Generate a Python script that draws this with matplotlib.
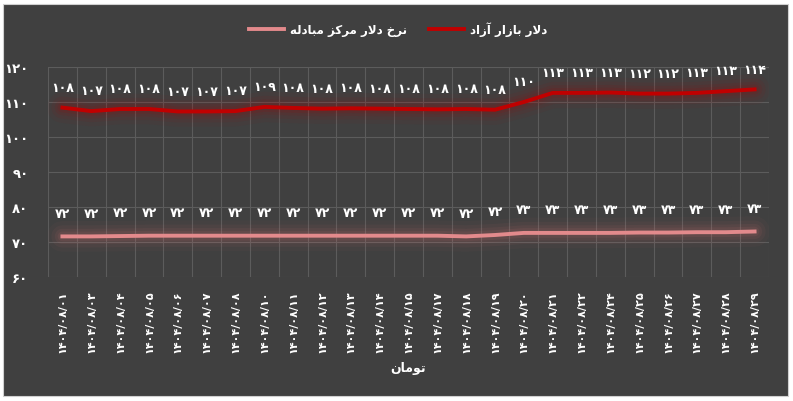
import matplotlib
matplotlib.use('Agg')
from matplotlib import pyplot as plt
from matplotlib.patches import Rectangle
import numpy as np

# data
dates = ['1404/08/01', '1404/08/03', '1404/08/04', '1404/08/05', '1404/08/06',
         '1404/08/07', '1404/08/08', '1404/08/10', '1404/08/11', '1404/08/12',
         '1404/08/13', '1404/08/14', '1404/08/15', '1404/08/17', '1404/08/18',
         '1404/08/19', '1404/08/20', '1404/08/21', '1404/08/22', '1404/08/24',
         '1404/08/25', '1404/08/26', '1404/08/27', '1404/08/28', '1404/08/29']
free_market = [108.4, 107.4, 108.0, 108.0, 107.3, 107.3, 107.4, 108.6, 108.3, 108.1,
               108.2, 108.1, 108.0, 107.9, 108.0, 107.8, 110.0, 112.6, 112.6, 112.7,
               112.4, 112.4, 112.6, 113.1, 113.6]
official = [71.6, 71.6, 71.7, 71.8, 71.8, 71.8, 71.8, 71.8, 71.8, 71.8,
            71.8, 71.8, 71.8, 71.8, 71.6, 72.0, 72.6, 72.6, 72.6, 72.6,
            72.7, 72.7, 72.8, 72.8, 73.0]
y_ticks = [60, 70, 80, 90, 100, 110, 120]

name_free = 'دلار بازار آزاد'
name_official = 'نرخ دلار مرکز مبادله'
unit = 'تومان'

FA_DIGITS = str.maketrans('0123456789', '۰۱۲۳۴۵۶۷۸۹')

# matplotlib does no arabic shaping, so pick presentation forms by hand
FORMS = {
    'ا': ('\uFE8D', '\uFE8E', None, None),
    'آ': ('\uFE81', '\uFE82', None, None),
    'ب': ('\uFE8F', '\uFE90', '\uFE91', '\uFE92'),
    'ت': ('\uFE95', '\uFE96', '\uFE97', '\uFE98'),
    'خ': ('\uFEA5', '\uFEA6', '\uFEA7', '\uFEA8'),
    'د': ('\uFEA9', '\uFEAA', None, None),
    'ر': ('\uFEAD', '\uFEAE', None, None),
    'ز': ('\uFEAF', '\uFEB0', None, None),
    'ک': ('\uFED9', '\uFEDA', '\uFEDB', '\uFEDC'),
    'ل': ('\uFEDD', '\uFEDE', '\uFEDF', '\uFEE0'),
    'م': ('\uFEE1', '\uFEE2', '\uFEE3', '\uFEE4'),
    'ن': ('\uFEE5', '\uFEE6', '\uFEE7', '\uFEE8'),
    'ه': ('\uFEE9', '\uFEEA', '\uFEEB', '\uFEEC'),
    'و': ('\uFEED', '\uFEEE', None, None),
}
LAM_ALEF = {'ا': ('\uFEFB', '\uFEFC'), 'آ': ('\uFEF5', '\uFEF6')}


def dual(c):
    return c in FORMS and FORMS[c][2] is not None


def fa(text):
    out = []
    n = len(text)
    i = 0
    while i < n:
        c = text[i]
        if c not in FORMS:
            out.append(c)
            i += 1
            continue
        joins_prev = i > 0 and dual(text[i - 1])
        if c == 'ل' and i + 1 < n and text[i + 1] in LAM_ALEF:
            lig = LAM_ALEF[text[i + 1]]
            out.append(lig[1] if joins_prev else lig[0])
            i += 2
            continue
        joins_next = dual(c) and i + 1 < n and text[i + 1] in FORMS
        f = FORMS[c]
        if joins_prev and joins_next:
            out.append(f[3])
        elif joins_prev:
            out.append(f[1])
        elif joins_next:
            out.append(f[2])
        else:
            out.append(f[0])
        i += 1
    return ''.join(reversed(out))


def fa_num(v):
    return ('%.0f' % v).translate(FA_DIGITS)


plt.rcParams['font.family'] = ['DejaVu Sans']
plt.rcParams['font.weight'] = 'bold'

bg = '#404040'
red = '#c00000'
pink = '#e38a8c'
grid_c = '#5c5c5c'

fig = plt.figure(figsize=(7.93, 4.02), dpi=100)
fig.patch.set_facecolor('white')
fig.patches.append(Rectangle((3 / 793, 1 - 397 / 402), 785 / 793, 392 / 402,
                             transform=fig.transFigure, facecolor=bg,
                             edgecolor='#d0d0d0', linewidth=0.8, zorder=-10))

ax = fig.add_axes([48 / 793, 1 - 278 / 402, 721 / 793, 210 / 402])
ax.set_facecolor(bg)
x = np.arange(len(dates))

# soft glow behind each line
for w, a in [(22, 0.04), (16, 0.06), (11, 0.08), (7, 0.1)]:
    ax.plot(x, free_market, color='#b00000', lw=w, alpha=a, solid_capstyle='round', zorder=2)
    ax.plot(x, official, color='#d07070', lw=w, alpha=a, solid_capstyle='round', zorder=2)

l_off, = ax.plot(x, official, color=pink, lw=2.8, label=fa(name_official), zorder=3)
l_free, = ax.plot(x, free_market, color=red, lw=2.8, label=fa(name_free), zorder=3)

for xi, v in zip(x, free_market):
    ax.annotate(fa_num(v), (xi, v), xytext=(0, 10), textcoords='offset points',
                ha='center', va='bottom', color='white', fontsize=9, fontweight='bold')
for xi, v in zip(x, official):
    ax.annotate(fa_num(v), (xi, v), xytext=(0, 12), textcoords='offset points',
                ha='center', va='bottom', color='white', fontsize=9, fontweight='bold')

ax.set_xlim(-0.5, len(dates) - 0.5)
ax.set_ylim(60, 120)
ax.set_yticks(y_ticks)
ax.set_yticklabels([fa_num(t) for t in y_ticks], color='white', fontsize=9.5, fontweight='bold')
ax.set_xticks(x)
ax.set_xticklabels([d.translate(FA_DIGITS) for d in dates], rotation=90,
                   color='white', fontsize=8, fontweight='bold')
ax.set_xticks(np.arange(-0.5, len(dates)), minor=True)
ax.tick_params(axis='both', which='both', length=0)
ax.tick_params(axis='y', pad=14)
ax.tick_params(axis='x', pad=9)
ax.grid(True, axis='y', which='major', color=grid_c, lw=0.8)
ax.grid(True, axis='x', which='minor', color=grid_c, lw=0.8)
ax.set_axisbelow(True)
for s in ax.spines.values():
    s.set_visible(False)

ax.set_xlabel(fa(unit), color='white', fontsize=9, fontweight='bold', labelpad=6)

leg = fig.legend(handles=[l_off, l_free], loc='center', bbox_to_anchor=(398 / 793, 1 - 30 / 402),
                 ncol=2, frameon=False, fontsize=8.5, handlelength=3.0, columnspacing=1.8,
                 handletextpad=0.5)
for t in leg.get_texts():
    t.set_color('white')
    t.set_fontweight('bold')

fig.savefig('out.png', dpi=100, facecolor=fig.get_facecolor())
